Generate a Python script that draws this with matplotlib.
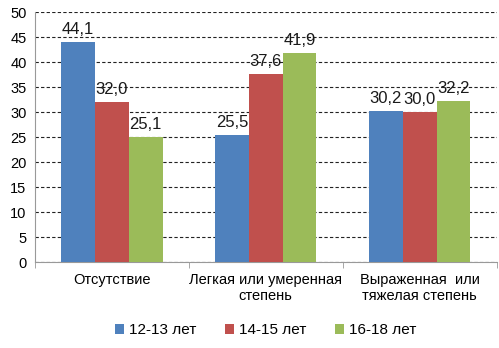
import numpy as np
import matplotlib
matplotlib.use('Agg')
import matplotlib.pyplot as plt

categories = ['Отсутствие', 'Легкая или умеренная\nстепень', 'Выраженная  или\nтяжелая степень']
series_names = ['12-13 лет', '14-15 лет', '16-18 лет']
v_12_13 = [44.1, 25.5, 30.2]
v_14_15 = [32.0, 37.6, 30.0]
v_16_18 = [25.1, 41.9, 32.2]
colors = ['#4F81BD', '#C0504D', '#9BBB59']

plt.rcParams['font.family'] = ['Liberation Sans', 'DejaVu Sans']

fig = plt.figure(figsize=(4.99, 3.48), dpi=100)
ax = fig.add_axes([0.070, 0.247, 0.925, 0.718])

x = np.arange(len(categories))
w = 0.22
for i, (vals, name, c) in enumerate(zip([v_12_13, v_14_15, v_16_18], series_names, colors)):
    pos = x + (i - 1) * w
    bars = ax.bar(pos, vals, width=w, color=c, label=name, zorder=3)
    for b, v in zip(bars, vals):
        ax.text(b.get_x() + b.get_width() / 2, v + 1.0, f'{v:.1f}'.replace('.', ','),
                ha='center', va='bottom', fontsize=12, color='#1a1a1a')

ax.set_xlim(-0.5, 2.5)
ax.set_ylim(0, 50)
ax.set_yticks(np.arange(0, 51, 5))
ax.yaxis.grid(True, linestyle=(0, (3, 2)), color='#222222', linewidth=0.8, zorder=0)
ax.set_axisbelow(True)
for s in ['top', 'right']:
    ax.spines[s].set_visible(False)
ax.spines['left'].set_color('#999999')
ax.spines['bottom'].set_color('#999999')
ax.tick_params(axis='y', length=0, labelsize=10.5, pad=6)
ax.set_xticks(x)
ax.set_xticklabels(categories, fontsize=10.5)
ax.tick_params(axis='x', length=0, pad=8)
ax.set_xticks([-0.5, 0.5, 1.5, 2.5], minor=True)
ax.tick_params(axis='x', which='minor', length=4, color='#999999')

ax.legend(loc='upper center', bbox_to_anchor=(0.5, -0.19), ncol=3, frameon=False,
          fontsize=11, handlelength=0.6, handleheight=0.6, handletextpad=0.3, columnspacing=1.9)

fig.savefig('out.png', dpi=100)
